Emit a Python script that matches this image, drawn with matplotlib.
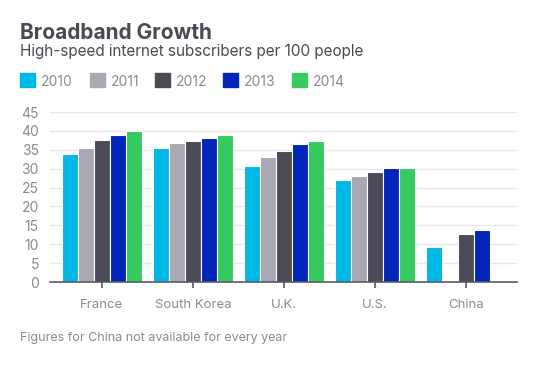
import numpy as np
import matplotlib.pyplot as plt

plt.rcParams['font.family'] = ['Inter', 'DejaVu Sans']

countries = ['France', 'South Korea', 'U.K.', 'U.S.', 'China']
years = ['2010', '2011', '2012', '2013', '2014']
colors = ['#00b8e6', '#a9a9b4', '#4b4b58', '#0025b8', '#36cb5e']

v2010 = [33.8, 35.4, 30.8, 26.9, 9.2]
v2011 = [35.6, 36.7, 33.0, 28.0, np.nan]
v2012 = [37.5, 37.2, 34.7, 29.1, 12.6]
v2013 = [38.8, 38.0, 36.5, 30.1, 13.7]
v2014 = [40.1, 38.8, 37.2, 30.3, np.nan]
series = [v2010, v2011, v2012, v2013, v2014]

text_grey = '#8a8a98'
dark = '#4a4a55'

fig = plt.figure(figsize=(5.57, 3.65), dpi=100)
ax = fig.add_axes([50 / 557, 1 - 282 / 365, 467 / 557, 170 / 365])

x = np.arange(len(countries))
w = 0.176
for i, (vals, c) in enumerate(zip(series, colors)):
    ax.bar(x + (i - 2) * w, vals, width=w, color=c, edgecolor='white',
           linewidth=0.8, zorder=3)

ax.set_xlim(-0.57, 4.56)
ax.set_ylim(0, 45)
ax.set_yticks(range(0, 46, 5))
ax.set_xticks(x)
ax.set_xticklabels(countries)
ax.grid(axis='y', color='#e8e8ec', linewidth=1, zorder=0)
for s in ['top', 'right', 'left']:
    ax.spines[s].set_visible(False)
ax.spines['bottom'].set_color('#5a5a66')
ax.spines['bottom'].set_linewidth(1.2)
ax.spines['bottom'].set_zorder(5)
ax.tick_params(axis='y', length=0, labelsize=10, labelcolor=text_grey, pad=8)
ax.tick_params(axis='x', length=4, width=1.2, color='#5a5a66', labelsize=9.5,
               labelcolor=text_grey, pad=8)

fig.text(20 / 557, 1 - 39 / 365, 'Broadband Growth', fontsize=15,
         fontweight='bold', color=dark, va='baseline')
fig.text(20 / 557, 1 - 56 / 365, 'High-speed internet subscribers per 100 people',
         fontsize=11, color=dark, va='baseline')

lx = [20, 90, 155, 223, 292]
for xx, yr, c in zip(lx, years, colors):
    fig.patches.append(plt.Rectangle((xx / 557, 1 - 87 / 365), 15 / 557, 14 / 365,
                                     transform=fig.transFigure, color=c))
    fig.text((xx + 21) / 557, 1 - 85.5 / 365, yr, fontsize=10, color=text_grey,
             va='baseline')

fig.text(20 / 557, 1 - 341 / 365, 'Figures for China not available for every year',
         fontsize=9, color=text_grey, va='baseline')

fig.savefig('out.png', dpi=100, facecolor='white')
